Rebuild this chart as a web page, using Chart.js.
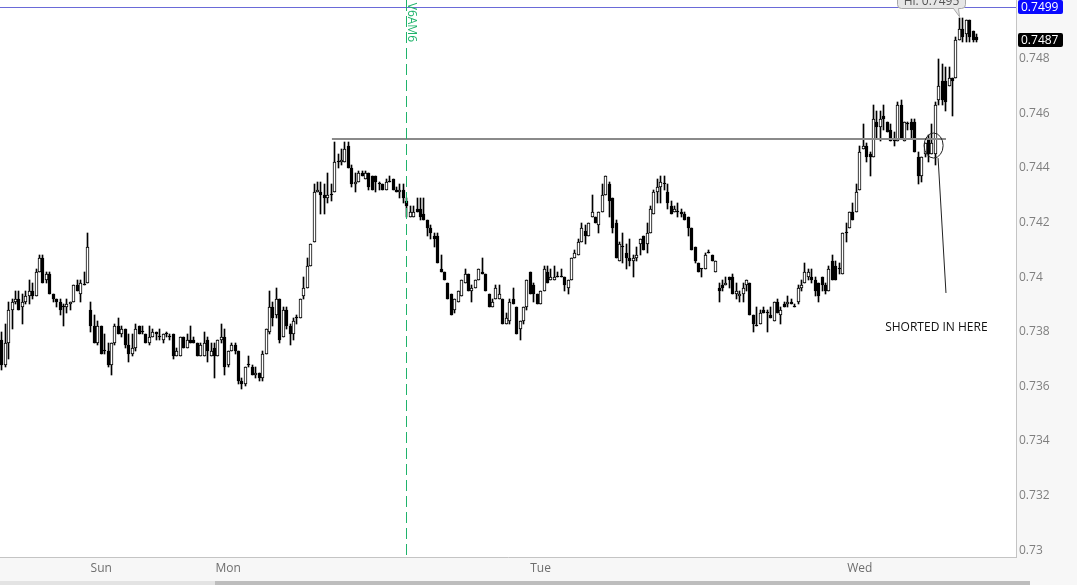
<!DOCTYPE html>
<html>
<head>
<meta charset="utf-8">
<script src="https://cdn.jsdelivr.net/npm/chart.js@4.4.0/dist/chart.umd.min.js"></script>
<style>
  html, body { margin: 0; padding: 0; background: #f7f7f7; }
  #wrap { width: 1077px; height: 585px; position: relative; }
</style>
</head>
<body>
<div id="wrap"><canvas id="chart"></canvas></div>
<script>
// 15 min candles
const open = [
  .7377,.7368,.7376,.7388,.7391,.7392,.7389,.7391,.7393,.7395,
  .7393,.7402,.7407,.7399,.7401,.7394,.7392,.7391,.7389,.7389,
  .7390,.7391,.7397,.7394,.7397,.7398,.7388,.7382,.7376,.7382,
  .7373,.7373,.7368,.7376,.7382,.7379,.7381,.7375,.7372,.7374,
  .7382,.7380,.7379,.7376,.7378,.7380,.7378,.7377,.7379,.7378,
  .7379,.7371,.7371,.7378,.7374,.7377,.7377,.7376,
  .7371,.7371,.7377,.7371,.7374,.7371,.7377,.7378,.7368,.7373,
  .7375,.7373,.7362,.7361,.7368,.7367,.7364,.7365,.7363,.7372,
  .7380,.7389,.7386,.7392,.7378,.7388,.7382,.7379,.7385,.7385,
  .7393,.7396,.7404,.7413,.7431,.7431,.7430,.7429,.7430,.7431,
  .7442,.7442,.7442,.7448,.7440,.7434,.7435,.7438,.7436,.7438,
  .7437,.7437,.7434,.7434,.7432,.7435,.7436,.7432,.7431,.7432,
  .7428,.7422,.7422,.7425,.7425,.7423,.7421,.7418,.7415,.7415,
  .7403,.7402,.7398,.7394,.7388,.7391,.7393,.7398,.7401,.7395,
  .7396,.7399,.7402,.7401,.7394,.7389,.7392,.7392,.7392,.7383,
  .7384,.7392,.7389,.7381,.7384,.7389,.7402,.7397,.7394,.7390,
  .7395,.7402,.7399,.7399,.7400,.7400,.7400,.7396,.7399,.7407,
  .7408,.7413,.7417,.7415,.7422,.7422,.7419,
  .7424,.7430,.7434,.7429,.7420,.7406,.7411,.7409,.7407,.7406,
  .7407,.7412,.7415,.7412,.7416,.7423,.7431,.7433,.7434,.7431,
  .7426,.7424,.7424,.7424,.7423,.7422,.7418,.7411,.7405,.7403,
  .7403,.7409,.7408,.7402,.7396,.7397,.7397,.7400,.7400,.7394,
  .7393,.7394,.7397,.7398,.7386,.7382,.7383,.7388,.7387,.7386,
  .7384,.7391,.7386,.7390,.7390,.7391,.7389,
  .7391,.7396,.7398,.7400,.7400,.7399,.7398,.7400,.7397,.7395,
  .7406,.7404,.7403,.7401,.7416,.7418,.7424,.7424,.7432,.7447,
  .7448,.7445,.7444,.7457,.7455,.7459,.7457,.7454,.7450,.7450,
  .7463,.7450,.7456,.7457,.7457,.7444,.7437,.7445,.7451,.7445,
  .7445,.7465,.7472,.7472,.7470,.7473,.7473,.7487,.7491,.7489,
  .7494,.7490,.7488
];
const high = [
  .7380,.7383,.7391,.7392,.7395,.7395,.7394,.7395,.7399,.7398,
  .7403,.7408,.7408,.7402,.7402,.7394,.7392,.7392,.7390,.7392,
  .7391,.7397,.7399,.7399,.7402,.7416,.7391,.7386,.7384,.7382,
  .7379,.7376,.7376,.7383,.7385,.7382,.7381,.7379,.7379,.7383,
  .7382,.7382,.7379,.7382,.7381,.7380,.7381,.7379,.7380,.7379,
  .7379,.7374,.7378,.7378,.7379,.7382,.7378,.7376,
  .7376,.7380,.7378,.7376,.7376,.7377,.7383,.7381,.7373,.7376,
  .7376,.7373,.7363,.7367,.7371,.7368,.7367,.7365,.7373,.7381,
  .7395,.7391,.7396,.7392,.7389,.7389,.7383,.7385,.7386,.7392,
  .7400,.7407,.7412,.7434,.7435,.7435,.7434,.7438,.7434,.74495,
  .7445,.7447,.74495,.74495,.7441,.7438,.7439,.7439,.7439,.7438,
  .7437,.7437,.7435,.7434,.7436,.7437,.7436,.7433,.7434,.7434,
  .7429,.7426,.7426,.7429,.7429,.7429,.7421,.7419,.7416,.7416,
  .7408,.7402,.7398,.7394,.7392,.7395,.7399,.7403,.7401,.7397,
  .7399,.7403,.7407,.7401,.7394,.7392,.7397,.7397,.7392,.7387,
  .7392,.7396,.7389,.7384,.7389,.7399,.7402,.7398,.7394,.7395,
  .7404,.7404,.7403,.7404,.7402,.7403,.7400,.7399,.7407,.7410,
  .7414,.7420,.7419,.7420,.7430,.7422,.7424,
  .7434,.7437,.7435,.7429,.7421,.7413,.7416,.7412,.7414,.7408,
  .7411,.7414,.7415,.7420,.7426,.7432,.7436,.7437,.7437,.7434,
  .7428,.7426,.7427,.7425,.7424,.7422,.7418,.7411,.7405,.7403,
  .7409,.7410,.7408,.7406,.7398,.7399,.7400,.7400,.7401,.7398,
  .7395,.7398,.7399,.7398,.7386,.7389,.7388,.7389,.7388,.7389,
  .7391,.7392,.7389,.7391,.7393,.7392,.7390,
  .7397,.7399,.7405,.7403,.7403,.7400,.7398,.7400,.7398,.7404,
  .7408,.7406,.7405,.7416,.7420,.7424,.7427,.7434,.7448,.7456,
  .7449,.7446,.7463,.7461,.7461,.7463,.7457,.7456,.7453,.7464,
  .7465,.7457,.7457,.7458,.7458,.7446,.7444,.7449,.7452,.7456,
  .7464,.7480,.7478,.7477,.7477,.7473,.7488,.7495,.7495,.7494,
  .7494,.7490,.7489
];
const low = [
  .7366,.7367,.7370,.7381,.7390,.7388,.7383,.7390,.7390,.7392,
  .7393,.7402,.7398,.7398,.7394,.7391,.7389,.7386,.7382,.7387,
  .7388,.7391,.7395,.7391,.7397,.7398,.7380,.7376,.7375,.7372,
  .7372,.7367,.7364,.7375,.7379,.7378,.7374,.7369,.7371,.7373,
  .7379,.7379,.7376,.7375,.7378,.7377,.7377,.7376,.7378,.7377,
  .7370,.7371,.7371,.7374,.7374,.7376,.7376,.7371,
  .7371,.7371,.7369,.7371,.7363,.7371,.7376,.7364,.7367,.7373,
  .7372,.7361,.7359,.7360,.7367,.7364,.7363,.7362,.7362,.7372,
  .7379,.7382,.7385,.7376,.7378,.7381,.7375,.7377,.7383,.7385,
  .7392,.7396,.7404,.7413,.7431,.7423,.7423,.7427,.7428,.7431,
  .7440,.7441,.7442,.7440,.7433,.7431,.7435,.7437,.7436,.7432,
  .7432,.7431,.7432,.7432,.7432,.7435,.7432,.7431,.7429,.7427,
  .7422,.7422,.7422,.7424,.7421,.7421,.7415,.7414,.7411,.7405,
  .7402,.7399,.7392,.7386,.7387,.7391,.7393,.7398,.7395,.7391,
  .7396,.7399,.7401,.7395,.7389,.7389,.7392,.7392,.7383,.7383,
  .7383,.7390,.7379,.7377,.7383,.7388,.7394,.7391,.7390,.7390,
  .7395,.7398,.7399,.7399,.7400,.7400,.7395,.7394,.7399,.7407,
  .7408,.7413,.7412,.7415,.7422,.7420,.7416,
  .7424,.7430,.7422,.7416,.7407,.7406,.7405,.7403,.7404,.7400,
  .7406,.7408,.7410,.7409,.7416,.7423,.7427,.7427,.7432,.7425,
  .7423,.7424,.7422,.7422,.7421,.7415,.7410,.7405,.7402,.7400,
  .7403,.7409,.7406,.7402,.7391,.7395,.7397,.7396,.7394,.7392,
  .7391,.7391,.7395,.7386,.7380,.7382,.7383,.7387,.7380,.7385,
  .7384,.7387,.7383,.7389,.7389,.7390,.7389,
  .7390,.7395,.7398,.7399,.7398,.7393,.7391,.7395,.7394,.7395,
  .7399,.7399,.7401,.7401,.7413,.7418,.7421,.7424,.7432,.7447,
  .7442,.7437,.7444,.7451,.7450,.7454,.7453,.7450,.7448,.7450,
  .7451,.7450,.7454,.7451,.7446,.7434,.7435,.7444,.7442,.7445,
  .7441,.7463,.7463,.7461,.7470,.7459,.7473,.7487,.7486,.7486,
  .7486,.7486,.7486
];
const close = [
  .7368,.7376,.7388,.7391,.7392,.7388,.7391,.7393,.7395,.7393,
  .7402,.7407,.7398,.7401,.7394,.7392,.7391,.7388,.7389,.7390,
  .7391,.7397,.7395,.7398,.7397,.7411,.7382,.7376,.7382,.7372,
  .7373,.7368,.7376,.7382,.7379,.7381,.7375,.7372,.7374,.7381,
  .7379,.7380,.7376,.7378,.7380,.7379,.7378,.7379,.7379,.7378,
  .7371,.7373,.7378,.7374,.7377,.7376,.7376,.7371,
  .7375,.7376,.7373,.7373,.7371,.7377,.7378,.7367,.7373,.7375,
  .7373,.7362,.7361,.7367,.7368,.7364,.7365,.7363,.7372,.7381,
  .7389,.7385,.7392,.7377,.7388,.7382,.7379,.7384,.7385,.7392,
  .7396,.7404,.7412,.7431,.7432,.7430,.7429,.7430,.7430,.7442,
  .7442,.7443,.7447,.7440,.7434,.7435,.7438,.7437,.7438,.7433,
  .7432,.7435,.7434,.7432,.7435,.7435,.7432,.7431,.7432,.7429,
  .7426,.7424,.7424,.7424,.7422,.7421,.7418,.7416,.7414,.7405,
  .7402,.7399,.7392,.7386,.7392,.7395,.7399,.7401,.7395,.7396,
  .7399,.7403,.7401,.7395,.7389,.7391,.7396,.7394,.7383,.7385,
  .7391,.7390,.7379,.7384,.7389,.7399,.7394,.7394,.7390,.7395,
  .7403,.7398,.7400,.7400,.7400,.7400,.7397,.7399,.7407,.7409,
  .7413,.7418,.7415,.7420,.7424,.7420,.7424,
  .7430,.7437,.7428,.7418,.7407,.7412,.7411,.7407,.7406,.7407,
  .7408,.7414,.7410,.7416,.7425,.7431,.7433,.7435,.7434,.7427,
  .7423,.7425,.7424,.7423,.7421,.7418,.7410,.7406,.7402,.7403,
  .7408,.7409,.7406,.7406,.7395,.7396,.7398,.7399,.7394,.7395,
  .7394,.7396,.7399,.7386,.7383,.7382,.7387,.7387,.7387,.7385,
  .7391,.7387,.7388,.7389,.7391,.7390,.7389,
  .7396,.7397,.7402,.7402,.7399,.7395,.7393,.7397,.7395,.7403,
  .7399,.7399,.7403,.7416,.7416,.7424,.7421,.7431,.7446,.7448,
  .7444,.7444,.7458,.7455,.7458,.7458,.7453,.7450,.7450,.7463,
  .7451,.7457,.7456,.7454,.7446,.7437,.7444,.7449,.7445,.7449,
  .7463,.7470,.7465,.7464,.7473,.7472,.7487,.7491,.7488,.7494,
  .7488,.7487,.7487
];

const slots = 296;                       // candle slots across the plot, incl. empty right margin
const dayNames = ['Sun', 'Mon', 'Tue', 'Wed'];
const dayIdx = [29, 66, 157, 250];
const yTicks = [0.73, 0.732, 0.734, 0.736, 0.738, 0.74, 0.742, 0.744, 0.746, 0.748];
const yMin = 0.72975, yMax = 0.75015;

// drawings on the chart (in data units)
const resistLevel = 0.74505, resistFrom = 96.2, resistTo = 275.1;
const newsIdx = 117.8, newsText = 'V6AM6';
const entryIdx = 271.5, entryPrice = 0.74482;
const arrowFrom = [272.8, 0.74436], arrowTo = [275.1, 0.73942];
const noteIdx = 272.3, notePrice = 0.73817, noteText = 'SHORTED IN HERE';
const alertLevel = 0.7499;

const labels = Array.from({length: slots}, (_, i) => String(i));
const bodies = open.map((o, i) => [Math.min(o, close[i]), Math.max(o, close[i])]);
const wicks = low.map((l, i) => [l, high[i]]);

const FONT = '"Open Sans", "Noto Sans", sans-serif';

// keep candles on whole pixels so they stay crisp
const snap = {
  id: 'snap',
  beforeDatasetsDraw(chart) {
    chart.data.datasets.forEach((ds, d) => {
      chart.getDatasetMeta(d).data.forEach(el => {
        el.x = Math.floor(el.x) + 0.5;
        el.y = Math.round(el.y);
        el.base = Math.round(el.base);
        if (Math.abs(el.base - el.y) < 1) el.base = el.y + 1;
      });
    });
  }
};

const overlay = {
  id: 'overlay',
  beforeDraw(chart) {
    const {ctx, chartArea: a, width, height} = chart;
    ctx.save();
    ctx.fillStyle = '#f7f7f7';
    ctx.fillRect(0, 0, width, height);
    ctx.fillStyle = '#ffffff';
    ctx.fillRect(a.left, a.top, a.right - a.left, a.bottom - a.top);
    ctx.restore();
  },
  afterDatasetsDraw(chart) {
    const {ctx, chartArea: a} = chart;
    const xs = chart.scales.x, ys = chart.scales.y;
    ctx.save();
    ctx.beginPath();
    ctx.rect(a.left, a.top, a.right - a.left, a.bottom - a.top);
    ctx.clip();

    // alert level
    let y = Math.round(ys.getPixelForValue(alertLevel)) + 0.5;
    ctx.strokeStyle = '#6a6ad8';
    ctx.lineWidth = 1;
    ctx.beginPath(); ctx.moveTo(a.left, y); ctx.lineTo(a.right, y); ctx.stroke();

    // resistance
    y = Math.round(ys.getPixelForValue(resistLevel));
    ctx.strokeStyle = '#8a8a8a';
    ctx.lineWidth = 2;
    ctx.beginPath();
    ctx.moveTo(xs.getPixelForValue(resistFrom), y);
    ctx.lineTo(xs.getPixelForValue(resistTo), y);
    ctx.stroke();

    // news line
    const nx = Math.round(xs.getPixelForValue(newsIdx)) + 0.5;
    ctx.strokeStyle = '#1fb36b';
    ctx.lineWidth = 1;
    ctx.setLineDash([11, 5]);
    ctx.beginPath(); ctx.moveTo(nx, a.top); ctx.lineTo(nx, a.bottom); ctx.stroke();
    ctx.setLineDash([]);
    ctx.save();
    ctx.translate(nx + 1, 42);
    ctx.rotate(Math.PI / 2);
    ctx.fillStyle = '#1fb36b';
    ctx.font = '12px ' + FONT;
    ctx.textAlign = 'right';
    ctx.textBaseline = 'alphabetic';
    ctx.fillText(newsText, 0, 0);
    ctx.restore();

    // entry circle + pointer line
    ctx.strokeStyle = '#222';
    ctx.lineWidth = 1;
    ctx.beginPath();
    ctx.ellipse(xs.getPixelForValue(entryIdx), ys.getPixelForValue(entryPrice), 9.5, 12.5, 0, 0, Math.PI * 2);
    ctx.stroke();
    ctx.beginPath();
    ctx.moveTo(xs.getPixelForValue(arrowFrom[0]), ys.getPixelForValue(arrowFrom[1]));
    ctx.lineTo(xs.getPixelForValue(arrowTo[0]), ys.getPixelForValue(arrowTo[1]));
    ctx.stroke();

    ctx.fillStyle = '#111';
    ctx.font = '12px ' + FONT;
    ctx.textAlign = 'center';
    ctx.textBaseline = 'middle';
    ctx.fillText(noteText, xs.getPixelForValue(noteIdx), ys.getPixelForValue(notePrice));
    ctx.restore();
  },
  afterDraw(chart) {
    const {ctx, chartArea: a, width, height} = chart;
    const xs = chart.scales.x, ys = chart.scales.y;
    ctx.save();

    // high callout
    let hi = -1, hiIdx = 0;
    high.forEach((h, i) => { if (h > hi) { hi = h; hiIdx = i; } });
    const tx = Math.floor(xs.getPixelForValue(hiIdx)) + 0.5, ty = ys.getPixelForValue(hi) - 1;
    ctx.fillStyle = '#e6e6e6';
    ctx.strokeStyle = '#a8a8a8';
    ctx.lineWidth = 1;
    ctx.beginPath();
    ctx.roundRect(tx - 62, -8.5, 68, 17, 4);
    ctx.fill(); ctx.stroke();
    ctx.beginPath();
    ctx.moveTo(tx - 6, 8); ctx.lineTo(tx, ty); ctx.lineTo(tx - 1, 8);
    ctx.closePath();
    ctx.fill();
    ctx.beginPath(); ctx.moveTo(tx - 6, 8.5); ctx.lineTo(tx, ty); ctx.lineTo(tx - 1, 8.5); ctx.stroke();
    ctx.fillStyle = '#555';
    ctx.font = '12px ' + FONT;
    ctx.textAlign = 'center';
    ctx.textBaseline = 'alphabetic';
    ctx.fillText('Hi: ' + hi.toFixed(4), tx - 28, 4.5);

    // price tags on the axis
    const tag = (text, value, fill) => {
      const yc = Math.round(ys.getPixelForValue(value));
      ctx.fillStyle = fill;
      ctx.beginPath();
      ctx.roundRect(a.right + 2, yc - 7, 45, 14, 2);
      ctx.fill();
      ctx.fillStyle = '#fff';
      ctx.textAlign = 'left';
      ctx.textBaseline = 'middle';
      ctx.fillText(text, a.right + 5, yc + 0.5);
    };
    tag(alertLevel.toFixed(4), alertLevel, '#0a0aff');
    tag(close[close.length - 1].toFixed(4), close[close.length - 1], '#000');

    // scrollbar
    ctx.fillStyle = '#e3e3e3';
    ctx.fillRect(0, height - 4, 1030, 4);
    ctx.fillStyle = '#bdbdbd';
    ctx.fillRect(215, height - 4, 815, 4);
    ctx.restore();
  }
};

new Chart(document.getElementById('chart'), {
  type: 'bar',
  data: {
    labels: labels,
    datasets: [{
      label: 'body',
      data: bodies,
      backgroundColor: c => close[c.dataIndex] > open[c.dataIndex] ? '#ffffff' : '#000000',
      borderColor: '#000000',
      borderWidth: 1,
      borderSkipped: false,
      barThickness: 3,
      minBarLength: 1,
      grouped: false,
      order: 1
    }, {
      label: 'wick',
      data: wicks,
      backgroundColor: '#000000',
      borderWidth: 0,
      barThickness: 1,
      grouped: false,
      order: 2
    }]
  },
  options: {
    responsive: true,
    maintainAspectRatio: false,
    animation: false,
    layout: { padding: 0 },
    plugins: {
      legend: { display: false },
      tooltip: { enabled: false }
    },
    scales: {
      x: {
        type: 'category',
        offset: true,
        grid: { display: false, drawTicks: false },
        border: { display: true, color: '#c4c4c4' },
        ticks: {
          autoSkip: false,
          maxRotation: 0,
          padding: 4,
          color: '#6e6e6e',
          font: { family: FONT, size: 12 },
          callback: v => dayNames[dayIdx.indexOf(v)]
        },
        afterBuildTicks: s => { s.ticks = dayIdx.map(v => ({value: v})); },
        afterFit: s => { s.height = 28; s.paddingLeft = 0; s.paddingRight = 0; }
      },
      y: {
        position: 'right',
        min: yMin,
        max: yMax,
        grid: { display: false, drawTicks: false },
        border: { display: true, color: '#c4c4c4' },
        ticks: {
          padding: 3,
          color: '#7f7f7f',
          font: { family: FONT, size: 12 },
          callback: v => String(+v.toFixed(3))
        },
        afterBuildTicks: s => { s.ticks = yTicks.map(v => ({value: v})); },
        afterFit: s => { s.width = 61; s.paddingTop = 0; s.paddingBottom = 0; }
      }
    }
  },
  plugins: [snap, overlay]
});
</script>
</body>
</html>
